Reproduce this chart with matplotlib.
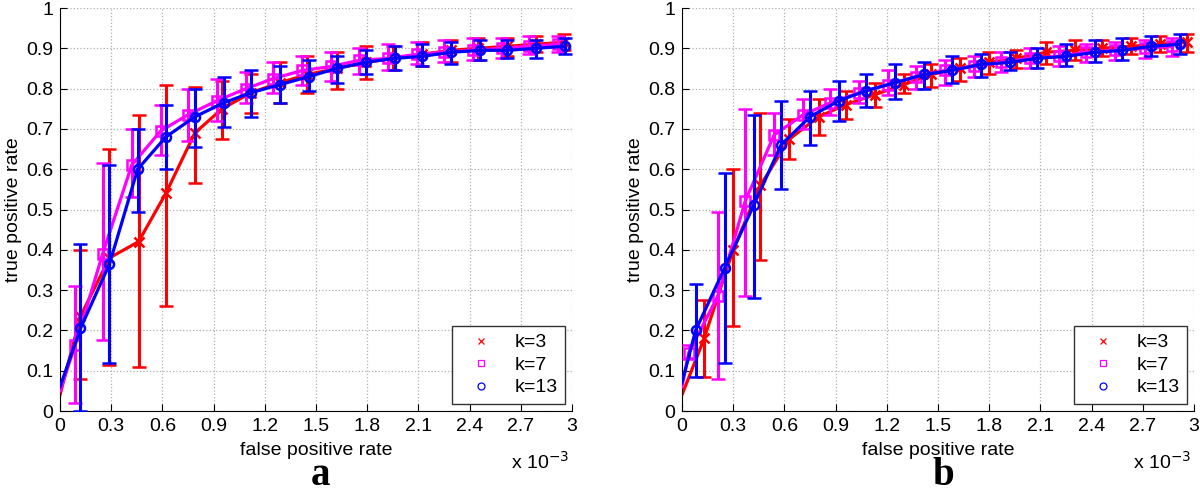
import numpy as np
import matplotlib
matplotlib.use('Agg')
import matplotlib.pyplot as plt
from matplotlib.lines import Line2D

plt.rcParams['font.family'] = ['Liberation Sans', 'DejaVu Sans']

# ---- panel a ----
a_k3_x = [0.12, 0.29, 0.46, 0.62, 0.79, 0.95, 1.12, 1.29, 1.45, 1.62, 1.79, 1.95, 2.12, 2.29, 2.45, 2.62, 2.79, 2.95]
a_k3_y = [0.235, 0.38, 0.42, 0.54, 0.69, 0.75, 0.79, 0.815, 0.835, 0.85, 0.865, 0.875, 0.885, 0.895, 0.90, 0.905, 0.91, 0.915]
a_k3_lo = [0.08, 0.115, 0.11, 0.26, 0.565, 0.675, 0.74, 0.765, 0.79, 0.80, 0.825, 0.845, 0.855, 0.865, 0.87, 0.88, 0.89, 0.895]
a_k3_hi = [0.40, 0.65, 0.735, 0.81, 0.805, 0.82, 0.835, 0.865, 0.88, 0.89, 0.905, 0.905, 0.915, 0.92, 0.925, 0.925, 0.93, 0.935]

a_k7_x = [0.09, 0.25, 0.42, 0.59, 0.75, 0.92, 1.09, 1.25, 1.42, 1.59, 1.75, 1.92, 2.09, 2.25, 2.42, 2.59, 2.75, 2.92]
a_k7_y = [0.165, 0.39, 0.61, 0.695, 0.735, 0.77, 0.80, 0.825, 0.845, 0.855, 0.87, 0.875, 0.885, 0.89, 0.895, 0.90, 0.905, 0.91]
a_k7_lo = [0.02, 0.175, 0.53, 0.635, 0.67, 0.72, 0.765, 0.79, 0.81, 0.82, 0.835, 0.845, 0.86, 0.865, 0.87, 0.875, 0.885, 0.89]
a_k7_hi = [0.31, 0.615, 0.70, 0.76, 0.80, 0.825, 0.84, 0.865, 0.88, 0.89, 0.90, 0.91, 0.915, 0.92, 0.925, 0.925, 0.93, 0.93]

a_k13_x = [0.12, 0.29, 0.455, 0.62, 0.79, 0.96, 1.12, 1.29, 1.46, 1.62, 1.79, 1.96, 2.12, 2.29, 2.46, 2.62, 2.79, 2.96]
a_k13_y = [0.205, 0.365, 0.60, 0.68, 0.73, 0.765, 0.79, 0.81, 0.83, 0.85, 0.865, 0.875, 0.88, 0.89, 0.895, 0.895, 0.90, 0.905]
a_k13_lo = [0.0, 0.12, 0.495, 0.60, 0.655, 0.705, 0.73, 0.765, 0.795, 0.815, 0.835, 0.845, 0.855, 0.86, 0.87, 0.875, 0.875, 0.885]
a_k13_hi = [0.415, 0.61, 0.70, 0.76, 0.80, 0.83, 0.845, 0.855, 0.87, 0.88, 0.895, 0.905, 0.91, 0.915, 0.92, 0.92, 0.92, 0.925]

# ---- panel b ----
b_k3_x = [0.13, 0.30, 0.46, 0.63, 0.80, 0.96, 1.13, 1.30, 1.46, 1.63, 1.80, 1.96, 2.13, 2.30, 2.46, 2.63, 2.80, 2.96]
b_k3_y = [0.18, 0.40, 0.56, 0.675, 0.73, 0.76, 0.785, 0.81, 0.835, 0.85, 0.865, 0.875, 0.89, 0.895, 0.90, 0.905, 0.91, 0.915]
b_k3_lo = [0.085, 0.21, 0.375, 0.625, 0.685, 0.725, 0.755, 0.79, 0.805, 0.82, 0.835, 0.85, 0.86, 0.87, 0.88, 0.885, 0.89, 0.89]
b_k3_hi = [0.275, 0.60, 0.74, 0.725, 0.775, 0.795, 0.815, 0.835, 0.86, 0.875, 0.89, 0.895, 0.915, 0.92, 0.92, 0.925, 0.93, 0.935]

b_k7_x = [0.04, 0.21, 0.37, 0.54, 0.71, 0.87, 1.04, 1.21, 1.37, 1.54, 1.71, 1.87, 2.04, 2.21, 2.37, 2.54, 2.71, 2.87]
b_k7_y = [0.145, 0.285, 0.52, 0.685, 0.735, 0.765, 0.79, 0.81, 0.83, 0.845, 0.855, 0.865, 0.875, 0.88, 0.89, 0.895, 0.90, 0.905]
b_k7_lo = [0.13, 0.08, 0.285, 0.635, 0.70, 0.735, 0.765, 0.785, 0.80, 0.81, 0.83, 0.84, 0.85, 0.855, 0.865, 0.87, 0.875, 0.88]
b_k7_hi = [0.165, 0.495, 0.75, 0.74, 0.775, 0.80, 0.82, 0.845, 0.855, 0.87, 0.88, 0.89, 0.90, 0.905, 0.91, 0.915, 0.92, 0.925]

b_k13_x = [0.08, 0.25, 0.42, 0.58, 0.75, 0.92, 1.08, 1.25, 1.42, 1.58, 1.75, 1.92, 2.08, 2.25, 2.42, 2.58, 2.75, 2.92]
b_k13_y = [0.20, 0.355, 0.51, 0.66, 0.73, 0.77, 0.795, 0.815, 0.835, 0.845, 0.86, 0.865, 0.875, 0.88, 0.89, 0.895, 0.905, 0.91]
b_k13_lo = [0.085, 0.12, 0.28, 0.55, 0.66, 0.72, 0.755, 0.775, 0.80, 0.815, 0.83, 0.845, 0.85, 0.855, 0.865, 0.87, 0.88, 0.885]
b_k13_hi = [0.315, 0.59, 0.735, 0.77, 0.795, 0.82, 0.835, 0.86, 0.865, 0.88, 0.885, 0.89, 0.90, 0.91, 0.92, 0.925, 0.93, 0.935]

# curves start at fpr = 0
start_y = {'a': [0.04, 0.05, 0.06], 'b': [0.04, 0.06, 0.07]}

labels = ['k=3', 'k=7', 'k=13']
colors = ['#ff0000', '#ff00ff', '#0000ff']
markers = ['x', 's', 'o']

panels = {
    'a': [(a_k3_x, a_k3_y, a_k3_lo, a_k3_hi), (a_k7_x, a_k7_y, a_k7_lo, a_k7_hi), (a_k13_x, a_k13_y, a_k13_lo, a_k13_hi)],
    'b': [(b_k3_x, b_k3_y, b_k3_lo, b_k3_hi), (b_k7_x, b_k7_y, b_k7_lo, b_k7_hi), (b_k13_x, b_k13_y, b_k13_lo, b_k13_hi)],
}

fig = plt.figure(figsize=(12, 4.94), dpi=100)
axes = {'a': fig.add_axes([0.05, 0.168, 0.4267, 0.8158]),
        'b': fig.add_axes([0.5683, 0.168, 0.4267, 0.8158])}

for name, ax in axes.items():
    for i, (x, y, lo, hi) in enumerate(panels[name]):
        x = np.array(x); y = np.array(y)
        err = [y - np.array(lo), np.array(hi) - y]
        ax.plot(np.r_[0, x], np.r_[start_y[name][i], y], color=colors[i], lw=2.3, zorder=2 + i)
        ax.errorbar(x, y, yerr=err, fmt=markers[i], color=colors[i], mfc='none', ms=6.5,
                    mew=1.8, elinewidth=2.2, capsize=5, capthick=2.4, zorder=2 + i)
    ax.set_xlim(0, 3)
    ax.set_ylim(0, 1)
    ax.set_xticks(np.arange(0, 3.01, 0.3))
    ax.set_xticklabels(['0', '0.3', '0.6', '0.9', '1.2', '1.5', '1.8', '2.1', '2.4', '2.7', '3'])
    ax.set_yticks(np.arange(0, 1.01, 0.1))
    ax.set_yticklabels(['0', '0.1', '0.2', '0.3', '0.4', '0.5', '0.6', '0.7', '0.8', '0.9', '1'])
    ax.tick_params(direction='in', length=5, labelsize=14, pad=5)
    ax.grid(True, linestyle=':', color='#b0b0b0', lw=0.9)
    ax.spines['top'].set_visible(False)
    ax.spines['right'].set_visible(False)
    ax.set_xlabel('false positive rate', fontsize=14, labelpad=5)
    ax.set_ylabel('true positive rate', fontsize=14, labelpad=3)
    ax.text(0.995, -0.1, r'x 10$^{-3}$', transform=ax.transAxes, ha='right', va='top', fontsize=14)
    handles = [Line2D([], [], ls='none', marker=markers[i], color=colors[i], mfc='none', ms=5, mew=0.9)
               for i in range(3)]
    leg = ax.legend(handles, labels, loc='lower right', fontsize=14, fancybox=False, framealpha=1,
                    edgecolor='#333333', borderaxespad=0.35, handlelength=2.2, handletextpad=0.6,
                    labelspacing=0.25, borderpad=0.4)
    leg.get_frame().set_linewidth(1.0)

fig.text(0.267, 0.0, 'a', ha='center', va='bottom', fontsize=28, fontweight='bold', family='Liberation Serif')
fig.text(0.786, 0.0, 'b', ha='center', va='bottom', fontsize=28, fontweight='bold', family='Liberation Serif')

fig.savefig('out.png', dpi=100)
